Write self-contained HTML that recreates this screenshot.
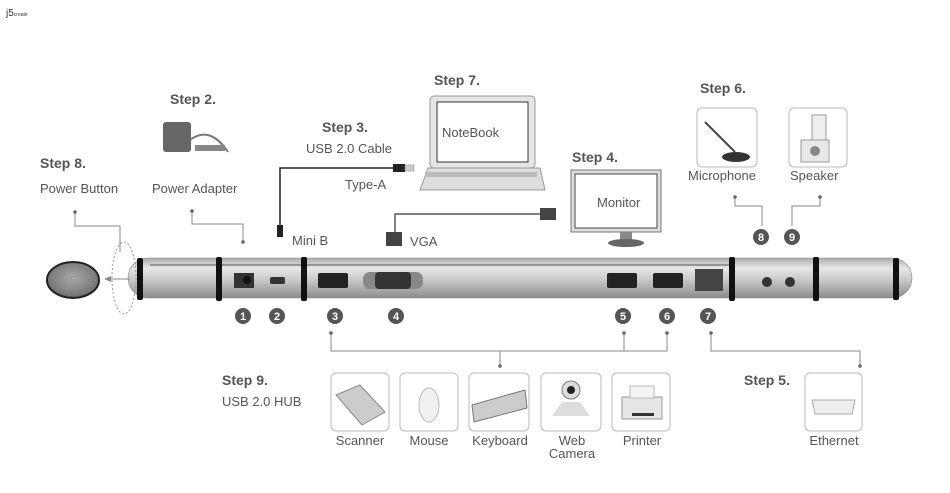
<!DOCTYPE html>
<html><head><meta charset="utf-8"><style>
body{margin:0;background:#fff;width:950px;height:488px;overflow:hidden}
svg text{font-family:"Liberation Sans",sans-serif}
.st{font-weight:bold;font-size:14px;fill:#555}
.lb{font-size:13px;fill:#555}
.ln{stroke:#888;stroke-width:1;fill:none}
</style></head><body>
<svg width="950" height="488" viewBox="0 0 950 488">
<defs>
<linearGradient id="tube" x1="0" y1="0" x2="0" y2="1">
<stop offset="0" stop-color="#aaa"/><stop offset="0.25" stop-color="#e8e8e8"/><stop offset="0.55" stop-color="#c8c8c8"/><stop offset="1" stop-color="#8c8c8c"/>
</linearGradient>
<radialGradient id="btn" cx="0.5" cy="0.45" r="0.6"><stop offset="0" stop-color="#aaa"/><stop offset="0.8" stop-color="#777"/><stop offset="1" stop-color="#333"/></radialGradient>
</defs>
<text x="6" y="16" font-size="10" fill="#333">j5<tspan font-size="5">create</tspan></text>

<text class="st" x="40" y="168">Step 8.</text><text class="lb" x="40" y="193">Power Button</text>
<text class="st" x="170" y="104">Step 2.</text><text class="lb" x="152" y="193">Power Adapter</text>
<text class="st" x="322" y="132">Step 3.</text><text class="lb" x="306" y="153">USB 2.0 Cable</text>
<text class="lb" x="345" y="189">Type-A</text><text class="lb" x="292" y="245">Mini B</text>
<text class="st" x="434" y="85">Step 7.</text>
<text class="st" x="572" y="162">Step 4.</text>
<text class="lb" x="410" y="246" font-size="15">VGA</text>
<text class="st" x="700" y="93">Step 6.</text>
<text class="lb" x="688" y="180">Microphone</text><text class="lb" x="790" y="180">Speaker</text>
<text class="st" x="222" y="385">Step 9.</text><text class="lb" x="222" y="406">USB 2.0 HUB</text>
<text class="st" x="744" y="385">Step 5.</text>

<rect x="163" y="122" width="28" height="30" rx="3" fill="#666"/>
<path d="M190 140 q20 -15 38 12" stroke="#777" fill="none" stroke-width="2"/>
<rect x="195" y="145" width="30" height="6" fill="#888"/>
<path d="M280 228 V168 H395" stroke="#222" stroke-width="1.5" fill="none"/>
<rect x="393" y="164" width="12" height="8" fill="#222"/><rect x="405" y="165" width="9" height="6" fill="#ccc" stroke="#888" stroke-width=".5"/>
<rect x="277" y="225" width="6" height="12" fill="#222"/>
<rect x="430" y="96" width="105" height="72" rx="4" fill="#e6e6e6" stroke="#999"/>
<rect x="437" y="102" width="91" height="60" fill="#fff" stroke="#333"/>
<text x="442" y="137" font-size="13" fill="#555">NoteBook</text>
<path d="M428 168 H540 L545 190 H420 Z" fill="#ddd" stroke="#999"/>
<rect x="425" y="172" width="112" height="5" fill="#bbb"/>
<rect x="571" y="170" width="90" height="62" fill="#ddd" stroke="#777"/>
<rect x="575" y="174" width="82" height="54" fill="#fff" stroke="#444"/>
<text x="597" y="207" font-size="13" fill="#555">Monitor</text>
<rect x="620" y="232" width="12" height="8" fill="#888"/><ellipse cx="626" cy="243" rx="18" ry="4" fill="#666"/>
<path d="M395 232 V214 H540" stroke="#333" stroke-width="1.2" fill="none"/>
<rect x="540" y="208" width="16" height="12" fill="#444"/>
<rect x="386" y="232" width="16" height="14" fill="#444"/>
<rect x="697" y="108" width="60" height="59" rx="5" fill="#fff" stroke="#bbb"/>
<path d="M705 122 L735 152" stroke="#444" stroke-width="2"/><ellipse cx="736" cy="157" rx="14" ry="5" fill="#333"/>
<rect x="789" y="108" width="58" height="59" rx="5" fill="#fff" stroke="#bbb"/>
<rect x="812" y="115" width="14" height="42" fill="#eee" stroke="#999"/><rect x="801" y="140" width="28" height="22" fill="#e8e8e8" stroke="#999"/>
<circle cx="815" cy="151" r="5" fill="#888"/>
<path class="ln" d="M75 212 V226 H120 V252"/><circle cx="75" cy="212" r="1.8" fill="#666"/>
<path class="ln" d="M192 210 V224 H243 V242"/><circle cx="192" cy="211" r="1.8" fill="#666"/><circle cx="243" cy="242" r="1.8" fill="#666"/>
<path class="ln" d="M735 197 V206 H762 V226"/><circle cx="735" cy="197" r="1.8" fill="#666"/>
<path class="ln" d="M820 197 V206 H792 V226"/><circle cx="820" cy="197" r="1.8" fill="#666"/>
<rect x="128" y="258" width="784" height="40" rx="20" fill="url(#tube)" stroke="#888" stroke-width=".6"/>
<line x1="150" y1="265" x2="730" y2="265" stroke="#555" stroke-width="1"/>
<g fill="#111"><rect x="137" y="258" width="6" height="42" rx="2"/><rect x="216" y="257" width="6" height="44" rx="2"/><rect x="301" y="257" width="6" height="44" rx="2"/><rect x="729" y="257" width="6" height="44" rx="2"/><rect x="813" y="257" width="6" height="44" rx="2"/><rect x="893" y="258" width="6" height="42" rx="2"/></g>
<ellipse cx="124" cy="278" rx="12" ry="36" fill="none" stroke="#999" stroke-dasharray="2,2"/>
<line x1="130" y1="279" x2="108" y2="279" stroke="#888"/><path d="M104 279 l7 -3 v6z" fill="#888"/>
<ellipse cx="73" cy="280" rx="26" ry="18" fill="url(#btn)" stroke="#222" stroke-width="2"/>
<text x="66" y="286" font-size="15" fill="#999">j5</text>
<rect x="234" y="273" width="20" height="15" fill="#333"/><circle cx="247" cy="280" r="4" fill="#111"/>
<rect x="270" y="277" width="15" height="7" rx="2" fill="#333"/>
<rect x="318" y="273" width="30" height="15" rx="2" fill="#222"/>
<rect x="363" y="272" width="60" height="17" rx="7" fill="#888"/><rect x="375" y="272" width="36" height="17" rx="4" fill="#333"/>
<rect x="607" y="273" width="30" height="15" rx="2" fill="#222"/>
<rect x="653" y="273" width="30" height="15" rx="2" fill="#222"/>
<rect x="695" y="269" width="28" height="22" fill="#444"/>
<circle cx="767" cy="282" r="5" fill="#333"/><circle cx="790" cy="282" r="5" fill="#333"/>
<g fill="#555"><circle cx="243" cy="316" r="8"/><circle cx="277" cy="316" r="8"/><circle cx="335" cy="316" r="8"/><circle cx="396" cy="316" r="8"/><circle cx="623" cy="316" r="8"/><circle cx="667" cy="316" r="8"/><circle cx="708" cy="316" r="8"/><circle cx="761" cy="237" r="8"/><circle cx="792" cy="237" r="8"/></g>
<g fill="#fff" font-size="11" font-weight="bold" text-anchor="middle"><text x="243" y="320">1</text><text x="277" y="320">2</text><text x="335" y="320">3</text><text x="396" y="320">4</text><text x="623" y="320">5</text><text x="667" y="320">6</text><text x="708" y="320">7</text><text x="761" y="241">8</text><text x="792" y="241">9</text></g>
<path class="ln" d="M331 333 V351 H667 V333 M624 333 V351 M500 351 V366 M711 333 V351 H860 V366"/>
<g fill="#666"><circle cx="331" cy="333" r="1.8"/><circle cx="624" cy="333" r="1.8"/><circle cx="667" cy="333" r="1.8"/><circle cx="711" cy="333" r="1.8"/><circle cx="500" cy="366" r="1.8"/><circle cx="860" cy="366" r="1.8"/></g>
<g fill="#fff" stroke="#bbb"><rect x="331" y="373" width="58" height="58" rx="5"/><rect x="400" y="373" width="58" height="58" rx="5"/><rect x="469" y="373" width="60" height="58" rx="5"/><rect x="541" y="373" width="60" height="58" rx="5"/><rect x="612" y="373" width="58" height="58" rx="5"/><rect x="805" y="373" width="57" height="58" rx="5"/></g>
<path d="M336 395 L360 385 L385 412 L362 425 Z" fill="#ccc" stroke="#888"/>
<ellipse cx="429" cy="405" rx="10" ry="17" fill="#f0f0f0" stroke="#bbb"/>
<path d="M472 405 L525 390 L527 408 L474 422 Z" fill="#ccc" stroke="#777"/>
<circle cx="571" cy="390" r="9" fill="#ddd" stroke="#777"/><circle cx="571" cy="390" r="4" fill="#222"/><path d="M552 416 L590 416 L580 402 L562 402Z" fill="#ddd"/>
<rect x="622" y="397" width="40" height="22" fill="#e5e5e5" stroke="#999"/><rect x="630" y="386" width="24" height="12" fill="#f4f4f4" stroke="#bbb"/><rect x="632" y="413" width="22" height="3" fill="#333"/>
<path d="M812 400 L855 400 L852 414 L815 414Z" fill="#eee" stroke="#aaa"/>
<g class="lb" font-size="13" text-anchor="middle"><text x="360" y="445">Scanner</text><text x="429" y="445">Mouse</text><text x="500" y="445">Keyboard</text><text x="572" y="445">Web</text><text x="572" y="458">Camera</text><text x="642" y="445">Printer</text><text x="834" y="445">Ethernet</text></g>
</svg>
</body></html>
